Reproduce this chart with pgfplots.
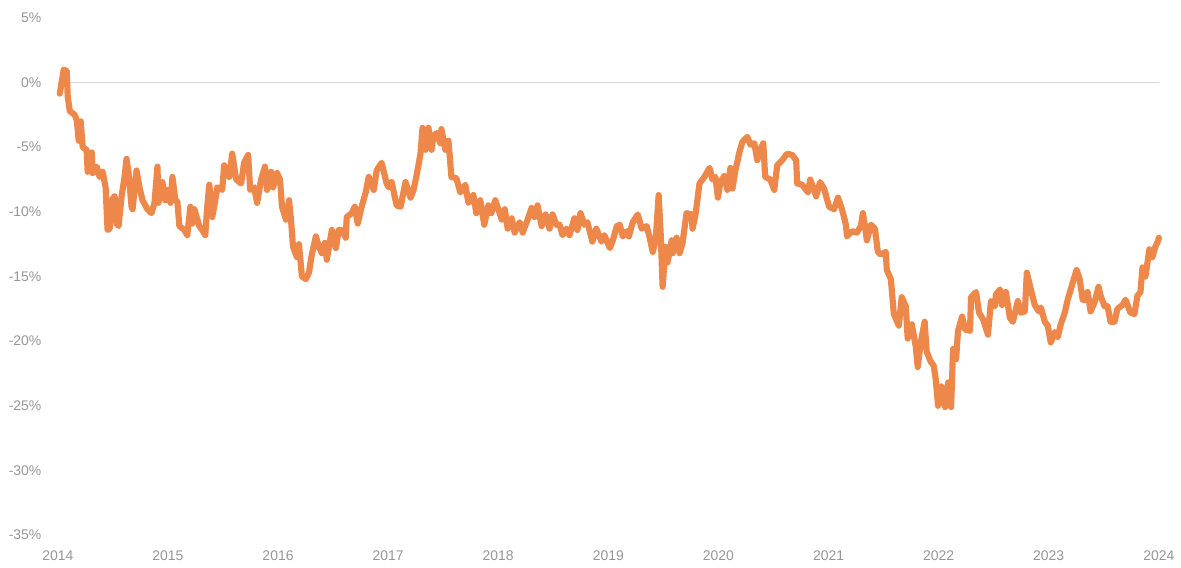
\documentclass[border=0pt]{standalone}
\usepackage{pgfplots}
\pgfplotsset{compat=1.18}
\usepackage{fontspec}
\setmainfont{Liberation Sans}
\definecolor{lineorange}{RGB}{237,135,74}
\definecolor{labelgray}{RGB}{150,150,150}
\definecolor{zerogray}{RGB}{217,217,217}

\pgfplotstableread{
yr val
2014.018 -0.85
2014.054 1.0
2014.081 0.9
2014.090 -1.1
2014.109 -2.2
2014.154 -2.5
2014.172 -2.9
2014.190 -4.5
2014.208 -3.0
2014.226 -5.0
2014.262 -5.2
2014.271 -6.9
2014.308 -5.4
2014.317 -7.0
2014.353 -6.5
2014.380 -7.3
2014.407 -6.9
2014.434 -8.1
2014.443 -9.8
2014.452 -11.4
2014.471 -11.3
2014.489 -9.1
2014.516 -8.8
2014.534 -10.9
2014.552 -11.1
2014.579 -8.8
2014.606 -7.3
2014.624 -5.9
2014.643 -7.0
2014.670 -9.6
2014.679 -9.8
2014.715 -6.8
2014.742 -8.1
2014.769 -9.1
2014.814 -9.8
2014.851 -10.1
2014.878 -9.3
2014.905 -6.5
2014.914 -9.3
2014.950 -7.7
2014.977 -9.1
2014.995 -8.3
2015.023 -9.3
2015.041 -7.3
2015.068 -9.1
2015.086 -9.2
2015.104 -11.1
2015.149 -11.4
2015.176 -11.8
2015.204 -9.6
2015.222 -10.9
2015.240 -9.8
2015.285 -11.1
2015.312 -11.4
2015.339 -11.8
2015.357 -9.6
2015.376 -7.9
2015.403 -10.4
2015.430 -9.1
2015.448 -8.1
2015.493 -8.3
2015.511 -6.4
2015.557 -7.3
2015.584 -5.5
2015.620 -7.5
2015.665 -7.8
2015.692 -6.2
2015.729 -5.6
2015.747 -8.3
2015.783 -8.1
2015.810 -9.3
2015.846 -7.5
2015.882 -6.5
2015.900 -8.3
2015.937 -6.9
2015.955 -8.1
2015.991 -7.0
2016.018 -7.5
2016.036 -9.6
2016.072 -10.6
2016.100 -9.1
2016.118 -10.6
2016.136 -12.7
2016.172 -13.5
2016.190 -12.5
2016.217 -15.0
2016.253 -15.2
2016.281 -14.7
2016.299 -13.7
2016.317 -12.9
2016.344 -11.9
2016.371 -12.7
2016.398 -13.2
2016.425 -12.4
2016.443 -13.7
2016.489 -11.4
2016.525 -12.8
2016.552 -11.4
2016.579 -11.4
2016.615 -12.0
2016.624 -10.4
2016.670 -10.1
2016.697 -9.6
2016.724 -10.9
2016.760 -9.6
2016.796 -8.5
2016.824 -7.3
2016.869 -8.3
2016.896 -6.8
2016.941 -6.2
2016.986 -7.8
2017.005 -8.1
2017.032 -7.7
2017.077 -9.5
2017.113 -9.6
2017.158 -7.7
2017.204 -8.9
2017.231 -8.3
2017.258 -7.2
2017.294 -5.5
2017.312 -3.5
2017.339 -5.2
2017.367 -3.5
2017.394 -5.2
2017.412 -4.2
2017.439 -3.9
2017.475 -4.7
2017.484 -3.6
2017.520 -5.2
2017.548 -4.5
2017.575 -7.3
2017.620 -7.4
2017.656 -8.5
2017.701 -7.9
2017.729 -9.3
2017.774 -8.7
2017.801 -10.1
2017.837 -9.1
2017.873 -11.0
2017.910 -9.5
2017.937 -10.1
2017.973 -9.1
2018.032 -10.6
2018.059 -9.8
2018.086 -11.3
2018.122 -10.5
2018.149 -11.6
2018.195 -10.8
2018.222 -11.6
2018.267 -10.6
2018.303 -9.7
2018.330 -10.4
2018.357 -9.5
2018.394 -11.1
2018.430 -10.2
2018.466 -11.3
2018.493 -10.2
2018.529 -11.0
2018.557 -11.0
2018.584 -11.8
2018.620 -11.3
2018.647 -11.8
2018.692 -10.5
2018.719 -11.4
2018.747 -10.1
2018.783 -11.0
2018.810 -10.8
2018.855 -12.3
2018.891 -11.3
2018.937 -12.3
2018.964 -11.8
2019.014 -12.8
2019.041 -12.2
2019.077 -11.1
2019.104 -11.0
2019.131 -11.9
2019.167 -11.5
2019.186 -11.9
2019.222 -10.8
2019.267 -10.2
2019.303 -11.3
2019.348 -11.1
2019.376 -12.0
2019.403 -13.1
2019.430 -12.2
2019.457 -8.7
2019.475 -11.6
2019.493 -15.8
2019.520 -12.7
2019.538 -13.9
2019.575 -12.2
2019.584 -13.2
2019.620 -12.0
2019.647 -13.2
2019.674 -12.4
2019.710 -10.1
2019.756 -10.2
2019.765 -11.3
2019.792 -10.2
2019.828 -7.8
2019.873 -7.3
2019.919 -6.6
2019.946 -7.5
2019.973 -7.3
2019.995 -8.9
2020.018 -7.7
2020.054 -7.2
2020.081 -8.3
2020.109 -6.6
2020.127 -8.2
2020.154 -6.8
2020.190 -5.4
2020.217 -4.6
2020.262 -4.2
2020.290 -4.8
2020.326 -4.7
2020.353 -6.0
2020.380 -5.2
2020.407 -4.7
2020.425 -7.3
2020.471 -7.5
2020.507 -8.3
2020.534 -6.4
2020.579 -6.0
2020.624 -5.5
2020.670 -5.6
2020.706 -6.0
2020.715 -7.8
2020.760 -7.9
2020.787 -8.2
2020.814 -8.5
2020.833 -7.5
2020.869 -8.3
2020.887 -8.8
2020.923 -7.7
2020.959 -8.2
2021.005 -9.6
2021.050 -9.8
2021.086 -8.9
2021.122 -9.8
2021.158 -11.0
2021.167 -11.9
2021.213 -11.5
2021.258 -11.6
2021.294 -11.1
2021.312 -10.1
2021.339 -11.6
2021.348 -12.2
2021.385 -11.0
2021.421 -11.3
2021.448 -13.1
2021.475 -13.3
2021.520 -13.1
2021.529 -14.5
2021.566 -15.2
2021.593 -17.9
2021.638 -18.8
2021.665 -16.6
2021.701 -17.3
2021.719 -19.8
2021.756 -18.7
2021.792 -20.4
2021.810 -22.0
2021.837 -20.1
2021.873 -18.5
2021.891 -20.8
2021.928 -21.6
2021.955 -21.9
2021.973 -22.9
2021.995 -25.0
2022.023 -23.5
2022.059 -25.1
2022.086 -23.2
2022.113 -25.1
2022.131 -20.6
2022.158 -21.4
2022.176 -19.2
2022.213 -18.1
2022.240 -19.1
2022.285 -19.2
2022.294 -16.6
2022.339 -16.2
2022.367 -17.8
2022.403 -18.3
2022.448 -19.5
2022.475 -16.9
2022.511 -17.3
2022.520 -16.4
2022.557 -16.0
2022.575 -17.2
2022.611 -16.2
2022.647 -18.2
2022.674 -18.5
2022.719 -16.9
2022.747 -17.8
2022.783 -17.7
2022.801 -14.7
2022.837 -16.0
2022.873 -17.2
2022.910 -17.7
2022.928 -17.4
2022.964 -18.5
2022.991 -18.8
2023.018 -20.1
2023.054 -19.3
2023.081 -19.7
2023.109 -18.7
2023.145 -17.8
2023.172 -16.8
2023.217 -15.5
2023.253 -14.5
2023.281 -15.2
2023.308 -16.8
2023.335 -16.8
2023.353 -16.2
2023.380 -17.7
2023.416 -17.0
2023.452 -15.8
2023.471 -16.5
2023.507 -17.3
2023.534 -17.3
2023.561 -18.5
2023.597 -18.5
2023.624 -17.5
2023.670 -17.2
2023.697 -16.8
2023.742 -17.8
2023.778 -17.9
2023.805 -16.5
2023.833 -16.2
2023.851 -14.3
2023.878 -15.0
2023.914 -12.9
2023.941 -13.5
2023.968 -12.7
2023.995 -12.2
2024.000 -12.0
}\perf

\begin{document}
\begin{tikzpicture}
\begin{axis}[
  scale only axis,
  width=552.5pt,
  height=259.5pt,
  xmin=2014, xmax=2024,
  ymin=-35, ymax=5,
  clip=false,
  axis line style={draw=none},
  major tick length=0pt,
  xtick={2014,2015,...,2024},
  xticklabels={2014,2015,2016,2017,2018,2019,2020,2021,2022,2023,2024},
  ytick={-35,-30,...,5},
  yticklabels={-35\%,-30\%,-25\%,-20\%,-15\%,-10\%,-5\%,0\%,5\%},
  tick label style={font=\fontsize{7}{8}\selectfont, text=labelgray},
  yticklabel style={xshift=-4.7pt},
  xticklabel style={yshift=-4.2pt},
]
% bounding box matching the reference margins
\path (rel axis cs:-0.0525,-0.0482) rectangle (rel axis cs:1.0163,1.0347);
\draw[zerogray, line width=0.6pt] (axis cs:2014,0) -- (axis cs:2024,0);
\addplot[lineorange, line width=3.1pt, line join=round, line cap=round, no marks]
  table[x=yr, y=val]{\perf};
\end{axis}
\end{tikzpicture}
\end{document}
